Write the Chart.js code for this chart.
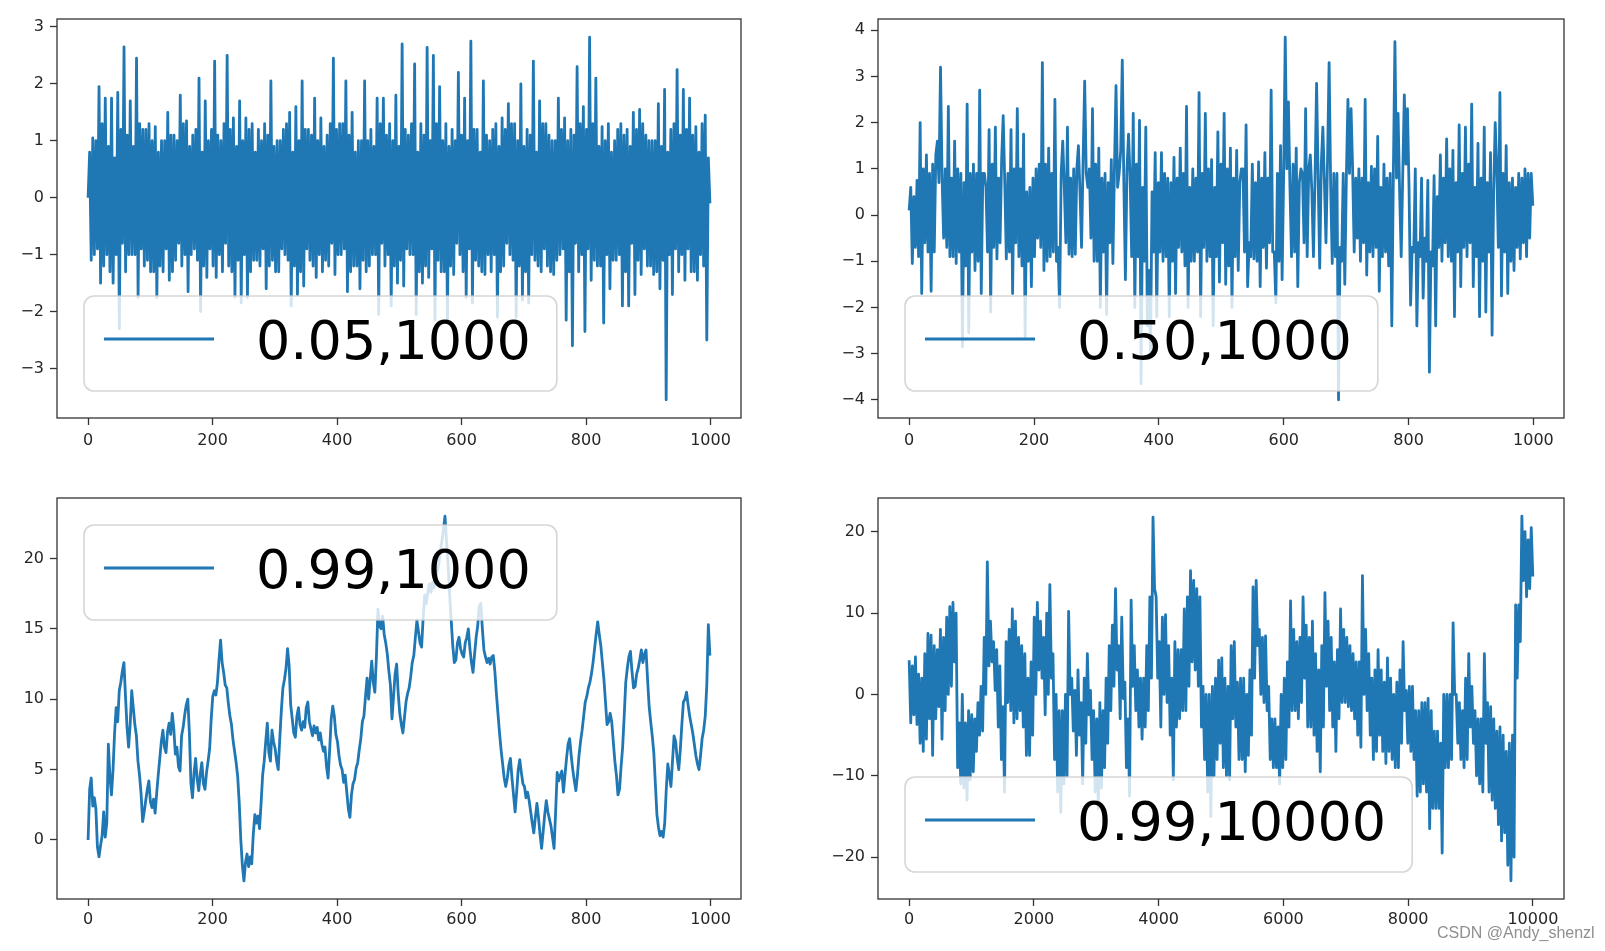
<!DOCTYPE html>
<html>
<head>
<meta charset="utf-8">
<script src="https://cdn.jsdelivr.net/npm/chart.js@4.4.1/dist/chart.umd.min.js"></script>
<style>
html, body { margin: 0; padding: 0; background: #fff; }
body { width: 1605px; height: 951px; position: relative; overflow: hidden; }
.panel { position: absolute; }
#wm { position: absolute; left: 1437px; top: 925px; font: 16px "Liberation Sans", Arial, sans-serif; color: #8f8f8f; white-space: nowrap; line-height: 16px; }
</style>
</head>
<body>
<div class="panel" style="left:0;top:0;width:760px;height:470px"><canvas id="c1"></canvas></div>
<div class="panel" style="left:820px;top:0;width:760px;height:470px"><canvas id="c2"></canvas></div>
<div class="panel" style="left:0;top:470px;width:760px;height:481px"><canvas id="c3"></canvas></div>
<div class="panel" style="left:820px;top:470px;width:760px;height:481px"><canvas id="c4"></canvas></div>
<div id="wm">CSDN @Andy_shenzl</div>
<script>
// series labels (phi, sample count)
const labels = ["0.05,1000", "0.50,1000", "0.99,1000", "0.99,10000"];
const sampleCounts = [1000, 1000, 1000, 10000];

// tick labels
const xTicks1000 = [0, 200, 400, 600, 800, 1000];
const xTicks10000 = [0, 2000, 4000, 6000, 8000, 10000];
const yTicks1 = [-3, -2, -1, 0, 1, 2, 3];
const yTicks2 = [-4, -3, -2, -1, 0, 1, 2, 3, 4];
const yTicks3 = [0, 5, 10, 15, 20];
const yTicks4 = [-20, -10, 0, 10, 20];

// each series is read at evenly spaced samples across 0..n-1

// phi = 0.05
const series1 = [
  0.0, 0.8, -1.1, 1.05, -1.0, 1.0, -0.9, 1.95, -1.5, 1.3, -1.2, 1.75, -1.0, 0.9, -1.3, 1.75, -1.5, 0.7, -1.0, 1.85,
  -2.3, 1.2, -0.8, 2.65, -1.3, 1.1, -1.0, 1.7, -1.0, 0.9, -1.0, 2.45, -1.75, 1.3, -0.9, 1.2, -1.2, 1.2, -1.1, 1.3,
  -1.3, 1.0, -1.3, 1.25, -1.75, 0.8, -1.2, 1.0, -1.3, 1.0, -0.9, 1.5, -1.45, 1.1, -1.3, 1.1, -1.1, 1.0, -0.8, 1.8,
  -1.2, 1.3, -1.0, 1.35, -1.65, 0.9, -1.0, 1.1, -0.9, 1.2, -1.1, 2.1, -2.0, 0.8, -1.2, 1.7, -1.4, 1.0, -0.9, 1.2,
  -1.2, 2.4, -1.4, 1.1, -1.0, 1.0, -1.3, 1.3, -0.8, 2.5, -1.2, 1.2, -1.3, 1.4, -1.75, 0.9, -1.1, 1.7, -1.85, 1.0,
  -1.0, 1.4, -1.75, 1.2, -1.3, 1.3, -1.1, 0.8, -1.1, 1.2, -1.2, 1.0, -0.9, 1.3, -1.6, 1.1, -1.2, 2.05, -1.1, 0.9,
  -1.3, 1.0, -1.3, 1.0, -0.9, 1.2, -1.0, 1.3, -1.1, 1.5, -1.9, 0.8, -1.2, 1.6, -1.7, 1.0, -1.3, 2.05, -1.55, 1.2,
  -0.9, 1.2, -1.1, 1.1, -1.2, 1.75, -1.4, 1.0, -1.0, 1.4, -1.3, 0.9, -1.1, 1.1, -1.2, 1.3, -0.8, 2.45, -1.35, 1.2,
  -1.0, 1.3, -1.0, 1.3, -0.9, 2.05, -1.65, 1.1, -1.3, 1.5, -1.2, 0.8, -1.2, 1.0, -1.6, 1.0, -1.1, 2.05, -1.3, 1.0,
  -1.2, 1.2, -1.0, 0.9, -1.0, 1.75, -2.05, 1.3, -0.8, 1.75, -1.2, 1.1, -1.0, 1.3, -1.9, 1.0, -1.2, 1.8, -1.5, 0.9,
  -1.1, 2.7, -1.55, 1.2, -0.9, 1.1, -1.0, 1.3, -1.0, 2.35, -2.05, 0.8, -1.3, 1.3, -1.5, 1.1, -1.2, 2.64, -1.4, 1.0,
  -0.9, 2.5, -2.15, 1.3, -1.1, 1.95, -1.3, 1.0, -1.3, 1.3, -2.15, 0.9, -1.2, 1.2, -1.35, 1.0, -0.8, 2.2, -1.0, 1.1,
  -1.3, 1.75, -1.75, 1.0, -0.9, 2.75, -1.85, 1.2, -1.1, 1.2, -1.2, 0.8, -1.3, 2.05, -1.35, 1.1, -1.0, 1.0, -1.3, 1.2,
  -1.0, 1.3, -2.1, 0.9, -1.3, 1.4, -1.2, 1.2, -0.8, 1.65, -1.0, 1.3, -1.1, 1.3, -2.1, 1.0, -1.2, 2.0, -1.8, 0.9,
  -1.3, 1.2, -1.85, 1.1, -1.0, 2.4, -1.1, 0.8, -1.2, 1.7, -1.3, 1.3, -0.9, 1.3, -1.2, 1.1, -1.3, 1.0, -1.35, 1.0,
  -1.1, 1.75, -1.0, 1.2, -0.9, 1.4, -2.15, 1.0, -1.3, 1.2, -2.6, 1.1, -0.8, 2.3, -1.3, 1.3, -1.0, 1.6, -2.35, 1.2,
  -0.9, 2.82, -1.45, 1.3, -1.1, 2.1, -1.2, 0.9, -1.2, 1.25, -2.2, 1.0, -1.0, 1.3, -1.6, 0.8, -1.1, 1.0, -1.1, 1.2,
  -1.0, 1.3, -1.9, 1.1, -1.3, 1.2, -1.9, 0.9, -0.8, 1.5, -1.7, 1.2, -1.1, 1.55, -1.35, 1.3, -0.9, 1.1, -1.2, 1.0,
  -1.2, 1.0, -1.35, 1.0, -1.3, 1.65, -1.6, 0.9, -1.1, 1.9, -3.55, 0.8, -1.0, 1.2, -1.7, 1.3, -0.9, 2.25, -1.3, 1.1,
  -1.0, 1.9, -1.45, 1.2, -0.9, 1.75, -1.3, 1.1, -1.3, 1.25, -1.45, 0.8, -1.0, 1.3, -1.2, 1.45, -2.5, 0.7, -0.1
];

// phi = 0.50
const series2 = [
  0.1, 0.6, -1.05, 0.4, -0.7, 0.75, -0.9, 2.0, -1.7, 1.0, -0.6, 1.3, -0.8, 0.9, -1.65, 1.1, -0.8, 1.3, 1.6, 0.7,
  3.2, 0.8, -0.5, 1.0, -0.7, 2.35, -0.9, 0.8, -0.9, 1.6, -1.05, 1.0, -0.8, 0.9, -2.85, 0.7, -1.1, 2.4, -2.55, 0.9,
  -0.8, 1.1, -1.2, 0.9, -1.0, 2.7, -1.7, 0.9, 0.9, 0.6, -0.8, 1.85, -2.1, 1.1, -0.7, 1.9, -0.95, 0.8, -0.6, 1.2,
  2.15, 0.7, -0.95, 0.9, -0.8, 1.85, -1.7, 1.0, -0.6, 2.3, -0.9, 1.0, -1.1, 1.75, -2.65, 0.5, -1.0, 0.6, -1.55, 0.8,
  -0.9, 1.0, -0.5, 1.1, -0.7, 3.3, -1.2, 1.1, -1.0, 1.45, -0.9, 0.9, -0.8, 2.5, -1.0, -0.7, -2.0, 0.9, 1.6, 0.6,
  -0.6, 1.9, -0.85, 0.8, -0.9, 1.0, -0.85, 1.0, 1.5, 0.5, -0.7, 1.2, 2.9, 0.9, 0.6, 1.0, -0.5, 2.3, -1.0, 1.1,
  -1.0, 1.45, -2.0, 0.8, -0.8, 0.9, -2.15, 0.7, -0.6, 1.2, -1.05, 1.0, 2.8, 0.6, 0.9, 1.4, 3.35, 0.7, -1.4, 1.0,
  1.75, 0.8, -0.9, 2.2, -2.0, 1.1, -0.9, 2.05, -3.65, 0.6, -1.0, 1.9, -2.4, -1.2, -3.05, 0.5, -0.8, 1.35, -2.2, 0.7,
  -0.8, 1.35, -1.0, 0.9, -0.9, 0.8, -2.2, 0.7, -1.0, 1.25, -1.7, 0.8, -0.7, 1.45, -0.8, 0.9, -1.1, 2.35, -2.0, 0.6,
  -1.0, 1.0, -1.0, 0.8, -0.8, 2.65, -2.2, 0.9, -0.7, 2.2, -1.0, 1.0, -0.9, 1.2, -2.4, 0.6, -0.9, 1.8, -1.45, 1.1,
  -0.6, 2.2, -1.5, 1.0, -1.1, 1.45, -2.0, 0.8, -0.9, 1.4, -1.2, 0.7, 1.0, 1.0, -0.8, 1.95, -1.55, -0.6, -0.9, 1.1,
  -0.95, 0.7, -1.0, 1.15, -1.55, 0.8, -0.7, 1.35, -1.15, 0.8, -0.6, 2.7, -0.8, -0.8, -1.9, 0.9, -1.0, 1.5, -1.4, 0.9,
  3.85, 1.0, 2.45, 0.6, -0.9, 1.1, -0.8, 1.45, -1.55, 0.7, 1.0, 0.9, -0.6, 2.3, -0.9, 1.0, 1.3, 0.5, -0.9, 0.8,
  2.85, 0.8, -1.15, 1.1, 1.9, 0.7, -0.6, 1.2, 3.3, 0.6, -1.05, 0.9, -0.9, 0.9, -4.0, -0.7, -1.0, 0.9, -1.5, 0.8,
  2.5, 0.9, 2.3, 1.0, -0.8, 0.8, -0.5, 1.0, -1.0, 0.8, -0.6, 2.5, -1.3, 0.7, -0.8, 1.05, -0.9, 1.0, -0.7, 1.7,
  -1.65, 0.6, -0.9, 1.1, -0.8, 0.8, -1.1, 0.9, -2.4, 0.9, 3.75, 0.8, 2.2, 0.5, -0.9, 0.9, 2.6, 1.1, 2.3, 0.6,
  -1.95, -0.7, -0.8, 1.0, -2.4, -0.6, -0.9, 0.8, -1.8, -0.5, -1.0, 0.75, -3.4, -0.8, -1.1, 0.85, -2.4, 0.4, -0.7, 1.3,
  -1.0, 0.8, -0.6, 1.65, -0.9, 1.0, -1.0, 1.4, -2.2, 0.7, -0.8, 1.95, -1.55, 0.9, -0.7, 1.9, -0.9, 1.1, -0.6, 2.4,
  -1.55, 0.6, -0.9, 1.55, -2.2, 0.8, -1.0, 1.9, -2.1, 0.7, -0.8, 1.35, -2.6, 0.5, 2.0, 1.0, -0.7, 2.65, -1.75, 0.9,
  -0.8, 1.5, -1.7, 0.7, -1.0, 0.8, -1.2, 0.6, -0.7, 0.9, -0.95, 0.8, -0.6, 1.0, -0.9, 0.9, -0.5, 0.9, 0.2
];

// phi = 0.99, 1000 samples
const series3 = [
  0.0, 3.6, 4.4, 2.4, 3.0, 2.2, -0.5, -1.2, -0.4, 0.3, 2.0, 0.2, 1.2, 6.8, 4.5, 3.2, 5.0, 7.6, 9.4, 8.4,
  10.6, 11.2, 12.0, 12.6, 10.2, 8.0, 6.6, 8.2, 10.6, 9.4, 8.2, 7.4, 5.6, 4.6, 3.3, 1.3, 2.0, 2.8, 3.6, 4.2,
  2.7, 2.3, 2.9, 1.9, 3.3, 4.6, 5.8, 7.0, 7.8, 6.6, 6.2, 7.7, 8.3, 7.5, 9.0, 7.9, 6.1, 6.6, 5.2, 4.9,
  7.4, 8.0, 8.9, 9.6, 10.0, 7.6, 4.0, 3.0, 4.8, 5.8, 4.3, 3.5, 4.7, 5.5, 4.0, 3.6, 4.8, 5.6, 6.5, 8.6,
  10.2, 10.6, 10.3, 11.2, 12.8, 14.2, 12.6, 11.9, 11.0, 10.8, 9.7, 8.8, 8.2, 7.1, 6.3, 5.5, 4.5, 2.6, 0.0, -1.8,
  -2.9, -1.6, -1.0, -1.9, -1.2, -1.7, 0.4, 1.8, 1.2, 1.7, 0.8, 2.6, 4.6, 5.6, 7.0, 8.3, 6.2, 5.6, 7.8, 7.0,
  6.5, 5.6, 5.0, 7.2, 9.2, 10.8, 11.4, 12.2, 13.6, 12.4, 9.6, 8.6, 7.6, 7.3, 8.8, 9.4, 8.2, 7.8, 8.4, 8.0,
  9.4, 9.8, 8.4, 7.9, 7.4, 8.1, 7.6, 8.0, 7.1, 7.6, 6.8, 6.3, 6.6, 5.2, 4.4, 6.4, 8.6, 9.5, 8.8, 7.5,
  7.0, 6.0, 5.3, 5.0, 4.1, 4.6, 3.4, 2.2, 1.6, 3.2, 4.0, 4.3, 5.1, 5.5, 6.4, 7.2, 8.4, 8.8, 10.2, 11.5,
  10.0, 11.4, 12.7, 11.2, 10.5, 13.0, 16.4, 15.2, 15.0, 15.9, 14.6, 14.0, 13.2, 12.0, 11.0, 8.6, 10.2, 11.8, 12.5, 10.4,
  9.0, 8.2, 7.6, 8.7, 9.8, 10.4, 10.8, 11.6, 12.6, 13.1, 14.4, 15.6, 14.8, 14.0, 13.7, 15.8, 17.4, 16.8, 17.6, 18.2,
  17.6, 18.3, 17.9, 18.6, 19.0, 19.6, 20.5, 21.2, 22.0, 23.0, 21.2, 19.6, 17.4, 15.6, 13.8, 12.6, 12.8, 14.0, 14.4, 13.6,
  13.2, 13.0, 14.0, 14.4, 15.0, 13.6, 12.6, 11.9, 13.2, 14.4, 15.2, 16.6, 16.8, 15.0, 13.5, 13.0, 12.6, 12.9, 12.5, 13.0,
  13.1, 12.0, 10.4, 9.0, 7.6, 6.4, 5.4, 4.4, 3.8, 4.4, 5.3, 5.8, 4.4, 3.2, 2.0, 3.4, 5.0, 5.7, 4.8, 4.0,
  3.8, 3.0, 3.4, 2.8, 2.0, 1.2, 0.5, 1.6, 2.6, 1.6, 0.4, -0.6, 0.6, 1.8, 2.8, 2.0, 1.5, 1.0, 0.2, -0.6,
  2.0, 4.8, 4.2, 4.6, 4.9, 3.4, 4.6, 5.8, 6.8, 7.2, 6.0, 5.0, 4.2, 3.5, 4.6, 6.0, 7.0, 7.8, 8.8, 9.8,
  10.2, 10.8, 11.2, 11.8, 12.6, 13.6, 14.6, 15.5, 14.6, 13.8, 12.6, 11.4, 9.8, 8.2, 8.4, 9.0, 8.4, 7.0, 5.6, 4.6,
  3.2, 3.6, 5.2, 6.6, 8.8, 11.2, 12.2, 13.0, 13.4, 12.0, 10.8, 10.9, 11.8, 12.2, 12.8, 13.5, 12.6, 13.2, 13.5, 11.4,
  9.5, 8.4, 7.4, 6.2, 4.0, 1.8, 0.9, 0.3, 0.6, 0.2, 1.2, 3.6, 5.4, 4.6, 3.8, 5.6, 7.4, 7.0, 5.8, 5.0,
  6.4, 8.2, 9.8, 10.0, 10.5, 9.6, 8.8, 8.2, 7.6, 6.8, 6.0, 5.4, 5.0, 6.0, 7.2, 7.8, 8.8, 11.0, 15.3, 13.1
];

// phi = 0.99, 10000 samples: alternating top / bottom of the band
const series4 = [
  4.2, -3.5, 3.5, -2.5, 4.6, -3.7, 2.5, -6.0, 2.0, -7.0, 5.0, -5.5, 7.5, -3.0, 7.3, -7.5, 6.0, -3.0, 5.5, -1.5,
  8.0, -5.5, 7.0, -2.0, 9.5, 0.0, 10.8, 1.0, 11.3, 4.0, 10.0, -9.0, -3.5, -11.0, 0.0, -11.5, -3.5, -13.0, -2.0, -10.5,
  -2.5, -9.5, -3.0, -7.0, -1.0, -5.0, 1.0, -4.5, 7.0, 0.0, 16.3, 3.5, 9.0, 4.0, 6.5, 0.5, 5.5, -4.0, 3.5, -8.0,
  -1.5, -12.0, 6.5, -1.0, 8.0, -2.0, 10.5, -3.5, 9.0, -3.0, 7.0, -2.0, 6.0, -4.0, 5.0, -7.5, 2.0, -7.5, 4.0, -5.0,
  9.5, 0.0, 11.3, 3.0, 9.0, 2.0, 7.0, -2.5, 10.0, 0.0, 13.5, 2.0, 5.0, -8.0, 0.0, -12.0, -2.0, -14.5, -2.0, -11.0,
  0.0, -10.0, 10.2, 0.0, 2.0, -4.5, 0.5, -7.5, 3.0, -5.0, -1.0, -11.0, 2.0, -6.0, 5.0, -2.5, 0.5, -8.0, -2.0, -12.0,
  -3.0, -14.0, -1.0, -11.5, -2.0, -9.0, 2.0, -6.0, 6.0, -2.0, 8.5, 1.0, 13.0, 3.0, 6.0, -3.0, 9.5, -0.5, 1.5, -9.0,
  -3.0, -12.5, 11.6, 1.0, 6.0, -2.0, 3.0, -4.0, 2.0, -5.5, 2.0, -4.0, 6.0, -2.0, 12.0, 2.0, 21.8, 13.0, 12.0, 2.0,
  6.5, -4.0, 9.5, 0.0, 9.8, -1.0, 6.0, -5.0, 2.0, -10.5, 6.5, -4.0, 5.5, -3.0, 5.5, -2.0, 10.5, -2.0, 12.0, 1.0,
  15.2, 4.0, 14.0, 3.0, 13.0, 1.0, 12.0, -4.0, 1.0, -8.0, 0.0, -12.0, 0.0, -15.0, 1.0, -10.0, 2.0, -8.0, 4.2, -6.0,
  4.5, -9.0, 2.0, -10.0, 1.0, -10.5, 6.0, -3.0, 6.5, -4.0, 1.5, -8.0, 2.0, -8.0, 2.0, -9.5, 0.0, -7.5, 3.0, -5.0,
  13.2, 2.0, 14.0, 6.0, 8.0, 0.0, 7.0, -1.0, 7.2, -2.0, 1.0, -8.0, -3.0, -9.0, -3.0, -9.0, -4.0, -11.0, 0.0, -9.0,
  2.0, -8.0, 4.0, -4.0, 11.5, -2.0, 8.0, -2.0, 6.5, -3.0, 7.0, -1.0, 12.0, 2.0, 8.5, -4.0, 7.0, -4.0, 9.0, -5.0,
  5.0, -7.0, 3.0, -9.5, 6.0, -4.0, 12.5, 1.0, 9.0, -2.0, 7.0, -4.0, 4.0, -7.0, 5.5, -3.0, 10.5, -1.0, 8.0, -1.0,
  7.0, -1.5, 6.0, -2.0, 5.0, -3.0, 4.0, -5.0, 4.0, -6.5, 14.6, 0.0, 8.0, -2.0, 5.0, -5.0, 2.0, -8.0, 3.0, -7.0,
  5.5, -5.0, 3.0, -7.0, 1.5, -8.5, 4.5, -7.0, 2.0, -8.0, 0.0, -9.0, 1.5, -9.0, 3.0, -6.0, 6.5, -2.0, 0.5, -6.0,
  1.0, -7.0, 1.0, -8.0, -2.0, -12.5, -2.0, -12.0, -1.0, -11.0, -1.0, -12.0, -0.5, -16.5, -2.0, -14.0, -4.5, -14.0, -4.5, -14.0,
  -6.0, -19.5, 0.0, -9.0, 0.0, -9.0, 0.0, -8.0, 8.8, 0.0, 0.0, -6.0, -1.0, -8.0, -2.0, -9.0, 2.0, -8.0, 5.0, -4.0,
  1.0, -6.0, -2.0, -10.0, -3.0, -11.0, -3.0, -12.0, 5.0, -6.0, -1.0, -12.0, -1.5, -13.0, -3.0, -14.0, -4.5, -16.0, -4.0, -18.0,
  -5.0, -17.0, -7.0, -21.0, -6.0, -22.9, -5.0, -20.0, 11.0, 2.0, 11.0, 6.5, 21.9, 14.0, 20.0, 12.0, 19.0, 13.0, 20.5, 14.5
];

const lineColor = "#1f77b4";
const lineWidth = 2.8;
const spineColor = "#333333";
const tickTextColor = "#262626";

Chart.defaults.font.family = '"DejaVu Sans", sans-serif';

// place readings on sample indices 0..n-1
const spread = (values, n) => values.map((y, i) => ({ x: i * (n - 1) / (values.length - 1), y }));
// matplotlib-like 5% margins
const margins = (lo, hi) => [lo - (hi - lo) * 0.05, hi + (hi - lo) * 0.05];
const minusSign = v => String(v).replace("-", "\u2212");

const framePlugin = {
    id: "frame",
    afterDraw(chart) {
        const { ctx, chartArea: a } = chart;
        ctx.save();
        ctx.strokeStyle = spineColor;
        ctx.lineWidth = 1.3;
        ctx.strokeRect(a.left, a.top, a.right - a.left, a.bottom - a.top);
        ctx.restore();
    }
};

const boxLegendPlugin = {
    id: "boxLegend",
    afterDatasetsDraw(chart, args, opts) {
        const { ctx, chartArea: a } = chart;
        ctx.save();
        ctx.font = '54px "DejaVu Sans"';
        const tw = ctx.measureText(opts.text).width;
        const w = 20 + 110 + 42 + tw + 26;
        const h = 95;
        const x = a.left + 27;
        const y = opts.loc === "upper left" ? a.top + 27 : a.bottom - 27 - h;
        const r = 10;
        ctx.beginPath();
        ctx.moveTo(x + r, y);
        ctx.lineTo(x + w - r, y);
        ctx.arcTo(x + w, y, x + w, y + r, r);
        ctx.lineTo(x + w, y + h - r);
        ctx.arcTo(x + w, y + h, x + w - r, y + h, r);
        ctx.lineTo(x + r, y + h);
        ctx.arcTo(x, y + h, x, y + h - r, r);
        ctx.lineTo(x, y + r);
        ctx.arcTo(x, y, x + r, y, r);
        ctx.closePath();
        ctx.fillStyle = "rgba(255,255,255,0.8)";
        ctx.fill();
        ctx.strokeStyle = "rgba(204,204,204,0.8)";
        ctx.lineWidth = 1.6;
        ctx.stroke();
        ctx.beginPath();
        ctx.moveTo(x + 20, y + 43);
        ctx.lineTo(x + 130, y + 43);
        ctx.strokeStyle = lineColor;
        ctx.lineWidth = lineWidth;
        ctx.stroke();
        ctx.fillStyle = "#000";
        ctx.textBaseline = "alphabetic";
        ctx.textAlign = "left";
        ctx.fillText(opts.text, x + 172, y + 63);
        ctx.restore();
    }
};

function axisOptions(min, max, tickValues, fit, pad) {
    return {
        type: "linear",
        min,
        max,
        afterFit: fit,
        afterBuildTicks: scale => { scale.ticks = tickValues.map(value => ({ value })); },
        border: { display: false },
        grid: {
            display: true,
            drawOnChartArea: false,
            drawTicks: true,
            tickLength: 7,
            tickColor: spineColor,
            tickWidth: 1.3
        },
        ticks: {
            autoSkip: false,
            maxRotation: 0,
            padding: pad,
            color: tickTextColor,
            font: { size: 16, family: '"DejaVu Sans", sans-serif' },
            callback: value => minusSign(value)
        }
    };
}

function drawPanel(id, values, n, xTicks, yTicks, legendText, legendLoc, yAxisWidth, rightPad, topPad, xPad) {
    const points = spread(values, n);
    const [xMin, xMax] = margins(0, n - 1);
    const [yMin, yMax] = margins(Math.min(...values), Math.max(...values));
    new Chart(document.getElementById(id), {
        type: "line",
        data: {
            datasets: [{
                label: legendText,
                data: points,
                borderColor: lineColor,
                borderWidth: lineWidth,
                borderJoinStyle: "round",
                borderCapStyle: "butt",
                pointRadius: 0,
                tension: 0,
                fill: false
            }]
        },
        options: {
            animation: false,
            responsive: true,
            maintainAspectRatio: false,
            events: [],
            layout: { padding: { left: 0, top: topPad, right: rightPad, bottom: 12 } },
            plugins: {
                legend: { display: false },
                tooltip: { enabled: false },
                boxLegend: { text: legendText, loc: legendLoc }
            },
            scales: {
                x: axisOptions(xMin, xMax, xTicks, s => { s.height = 40; }, xPad),
                y: axisOptions(yMin, yMax, yTicks, s => { s.width = yAxisWidth; }, 6)
            }
        },
        plugins: [boxLegendPlugin, framePlugin]
    });
}

drawPanel("c1", series1, sampleCounts[0], xTicks1000, yTicks1, labels[0], "lower left", 57, 19, 19, 6);
drawPanel("c2", series2, sampleCounts[1], xTicks1000, yTicks2, labels[1], "lower left", 58, 16, 19, 6);
drawPanel("c3", series3, sampleCounts[2], xTicks1000, yTicks3, labels[2], "upper left", 57, 19, 28, 4);
drawPanel("c4", series4, sampleCounts[3], xTicks10000, yTicks4, labels[3], "lower left", 58, 16, 28, 4);
</script>
</body>
</html>
